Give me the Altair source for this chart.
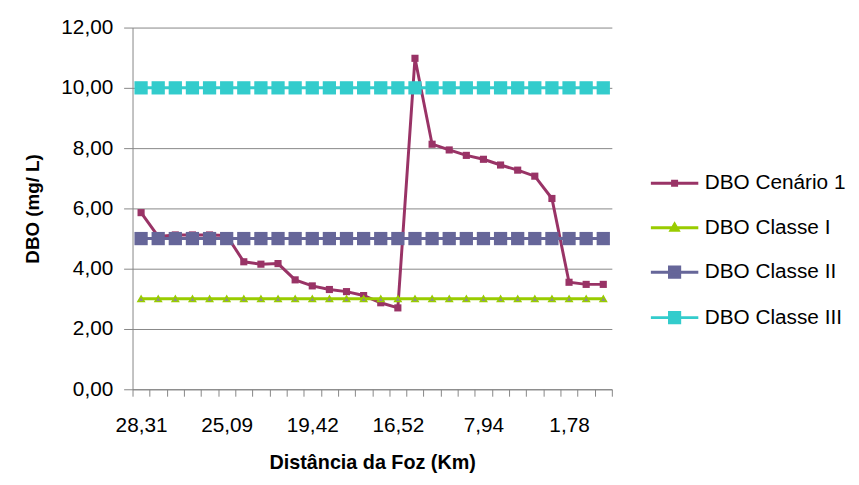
import altair as alt
import pandas as pd

# ---------------- data ----------------
x_tick_labels = ["28,31", "25,09", "19,42", "16,52", "7,94", "1,78"]
label_step = 5

dbo_cenario_1 = [5.86, 5.07, 5.12, 5.12, 5.12, 5.10, 4.23, 4.15, 4.17, 3.63,
                 3.43, 3.31, 3.24, 3.11, 2.87, 2.70, 10.98, 8.13, 7.94, 7.76,
                 7.63, 7.44, 7.27, 7.07, 6.33, 3.55, 3.48, 3.48]
dbo_classe_1 = [3.0, 3.0, 3.0, 3.0, 3.0, 3.0, 3.0, 3.0, 3.0, 3.0,
                3.0, 3.0, 3.0, 3.0, 3.0, 3.0, 3.0, 3.0, 3.0, 3.0,
                3.0, 3.0, 3.0, 3.0, 3.0, 3.0, 3.0, 3.0]
dbo_classe_2 = [5.0, 5.0, 5.0, 5.0, 5.0, 5.0, 5.0, 5.0, 5.0, 5.0,
                5.0, 5.0, 5.0, 5.0, 5.0, 5.0, 5.0, 5.0, 5.0, 5.0,
                5.0, 5.0, 5.0, 5.0, 5.0, 5.0, 5.0, 5.0]
dbo_classe_3 = [10.0, 10.0, 10.0, 10.0, 10.0, 10.0, 10.0, 10.0, 10.0, 10.0,
                10.0, 10.0, 10.0, 10.0, 10.0, 10.0, 10.0, 10.0, 10.0, 10.0,
                10.0, 10.0, 10.0, 10.0, 10.0, 10.0, 10.0, 10.0]

series_names = ["DBO Cenário 1", "DBO Classe I", "DBO Classe II", "DBO Classe III"]
series_values = [dbo_cenario_1, dbo_classe_1, dbo_classe_2, dbo_classe_3]
y_ticks = [0, 2, 4, 6, 8, 10, 12]

# ---------------- styles ----------------
line_colors = ["#993366", "#99CC00", "#666699", "#33CCCC"]
marker_fill = ["#993366", "#8C8C8C", "#666699", "#33CCCC"]
marker_shape = ["square", "triangle-up", "square", "square"]
marker_size = [52, 42, 180, 180]
legend_paths = [
    "M-2,0H2M-0.17,-0.17H0.17V0.17H-0.17Z",
    "M-2,0H2M-0.3,0.22L0,-0.3L0.3,0.22Z",
    "M-2,0H2M-0.43,-0.43H0.43V0.43H-0.43Z",
    "M-2,0H2M-0.43,-0.43H0.43V0.43H-0.43Z",
]
GRAY = "#868686"
FONT = "Liberation Sans"

rows = []
for name, vals in zip(series_names, series_values):
    for i, v in enumerate(vals):
        rows.append({"idx": i, "series": name, "value": v})
df = pd.DataFrame(rows)

labels_js = "[" + ",".join("'" + s + "'" for s in x_tick_labels) + "]"
x_label_expr = (
    f"datum.value % {label_step} == 0 ? "
    f"({labels_js}[datum.value / {label_step}] || '') : ''"
)

X = alt.X(
    "idx:O",
    title="Distância da Foz (Km)",
    scale=alt.Scale(paddingInner=0, paddingOuter=0),
    axis=alt.Axis(
        labelAngle=0, labelExpr=x_label_expr, labelFontSize=21, labelPadding=19,
        labelColor="black", tickBand="extent", tickSize=7, tickColor=GRAY,
        domainColor=GRAY, grid=False, titleFontSize=20, titleFontWeight="bold",
        titleColor="black", titlePadding=17,
    ),
)
Y = alt.Y(
    "value:Q",
    title="DBO (mg/ L)",
    scale=alt.Scale(domain=[0, 12]),
    axis=alt.Axis(
        values=y_ticks, labelExpr="replace(format(datum.value, '.2f'), '.', ',')",
        labelFontSize=21, labelPadding=11, labelColor="black", tickSize=9,
        tickColor=GRAY, domainColor=GRAY, grid=True, gridColor=GRAY,
        titleFontSize=19, titleFontWeight="bold", titleColor="black", titlePadding=19,
    ),
)

layers = []
for k, name in enumerate(series_names):
    base = alt.Chart(df).transform_filter(alt.datum.series == name)
    line = base.mark_line(color=line_colors[k], strokeWidth=3).encode(x=X, y=Y)
    if marker_shape[k] == "triangle-up":
        pts = base.mark_point(shape="triangle-up", size=marker_size[k], filled=True,
                              fill=marker_fill[k], stroke=line_colors[k],
                              strokeWidth=1.5, opacity=1).encode(x=X, y=Y)
    else:
        pts = base.mark_point(shape=marker_shape[k], size=marker_size[k], filled=True,
                              fill=marker_fill[k], opacity=1).encode(x=X, y=Y)
    layers += [line, pts]

legend_layer = alt.Chart(df).transform_filter("false").mark_point(
    filled=True, opacity=1
).encode(
    x=X, y=Y,
    stroke=alt.Stroke("series:N", title=None,
                      scale=alt.Scale(domain=series_names, range=line_colors)),
    fill=alt.Fill("series:N", title=None,
                  scale=alt.Scale(domain=series_names, range=marker_fill)),
    shape=alt.Shape("series:N", title=None,
                    scale=alt.Scale(domain=series_names, range=legend_paths)),
)

chart = alt.layer(*layers, legend_layer).properties(
    width=485, height=366,
    padding={"left": 15, "top": 6, "right": 5, "bottom": 5},
).configure(font=FONT).configure_view(stroke=None).configure_legend(
    orient="none", legendX=535, legendY=144, padding=0,
    labelFontSize=21, labelColor="black", labelFont=FONT,
    symbolSize=576, symbolStrokeWidth=3, symbolOffset=0,
    symbolFillColor="#000000", symbolOpacity=1,
    labelOffset=17, rowPadding=21,
)

chart.save("out.html", embed_options={"renderer": "svg", "actions": False})
